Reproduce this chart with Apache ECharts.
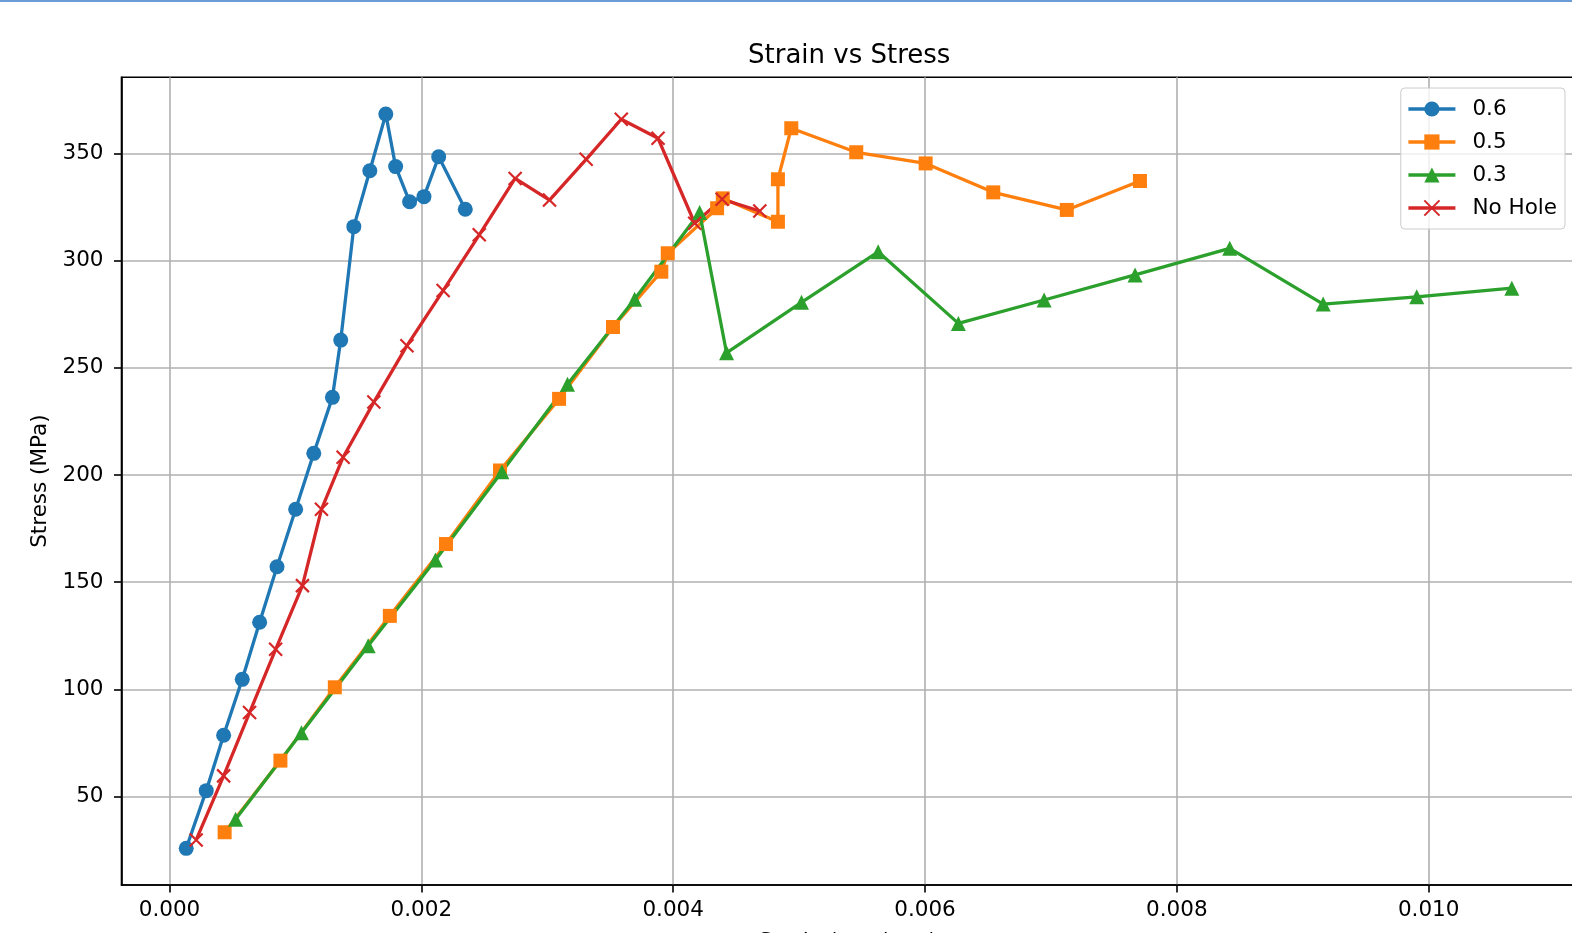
<!DOCTYPE html>
<html>
<head>
<meta charset="utf-8">
<script src="https://cdn.jsdelivr.net/npm/echarts@6/dist/echarts.min.js"></script>
<style>
  html, body { margin: 0; padding: 0; background: #fff; }
  #chart { width: 1572px; height: 933px; }
</style>
</head>
<body>
<div id="chart"></div>
<script>
// Series data: [strain, stress (MPa)]
const hole06 = [[0.000133,25.9],[0.000292,52.8],[0.000430,78.6],[0.000578,104.7],[0.000716,131.3],[0.000854,157.2],[0.001002,184.0],[0.001146,210.1],[0.001294,236.2],[0.001360,262.9],[0.001464,315.8],[0.001591,341.9],[0.001718,368.3],[0.001796,343.8],[0.001907,327.4],[0.002021,329.8],[0.002138,348.4],[0.002349,323.9]];
const hole05 = [[0.000438,33.4],[0.000881,66.8],[0.001313,101.0],[0.001750,134.3],[0.002196,167.8],[0.002625,202.1],[0.003094,235.5],[0.003522,269.0],[0.003906,294.8],[0.003957,303.4],[0.004349,324.4],[0.004394,329.0],[0.004832,318.1],[0.004832,337.9],[0.004938,361.7],[0.005454,350.5],[0.006005,345.3],[0.006542,331.8],[0.007126,323.6],[0.007707,337.1]];
const hole03 = [[0.000525,39.5],[0.001048,79.8],[0.001578,120.4],[0.002112,160.4],[0.002640,201.5],[0.003161,242.3],[0.003694,282.0],[0.004210,322.4],[0.004424,257.0],[0.005019,280.5],[0.005628,304.1],[0.006265,270.7],[0.006946,281.6],[0.007668,293.3],[0.008420,305.7],[0.009162,279.7],[0.009905,283.1],[0.010660,287.1]];
const noHole = [[0.000212,29.8],[0.000430,59.7],[0.000636,89.2],[0.000843,118.7],[0.001056,148.4],[0.001207,184.0],[0.001379,208.3],[0.001623,234.0],[0.001886,260.3],[0.002173,286.0],[0.002460,312.0],[0.002745,338.3],[0.003018,328.2],[0.003309,347.2],[0.003588,365.9],[0.003880,357.0],[0.004171,317.4],[0.004389,328.6],[0.004688,323.1]];

const seriesNames = ['0.6', '0.5', '0.3', 'No Hole'];
const xTicks = [0, 0.002, 0.004, 0.006, 0.008, 0.010];
const yTicks = [50, 100, 150, 200, 250, 300, 350];

const FONT = 'DejaVu Sans';
const FS = 21.5;
const colors = ['#1f77b4', '#ff7f0e', '#2ca02c', '#d62728'];
const crossPath = 'path://M0,0L10,10M10,0L0,10';

const chart = echarts.init(document.getElementById('chart'), null, { renderer: 'canvas' });

function lineSeries(name, data, color, symbol, size, extraItem) {
  return {
    name: name,
    type: 'line',
    data: data,
    symbol: symbol,
    symbolSize: size,
    showAllSymbol: true,
    animation: false,
    lineStyle: { color: color, width: 3.3 },
    itemStyle: Object.assign({ color: color, opacity: 1 }, extraItem || {}),
    emphasis: { disabled: true }
  };
}

const option = {
  animation: false,
  backgroundColor: '#ffffff',
  color: colors,
  graphic: [{
    type: 'rect',
    shape: { x: 0, y: 0, width: 1572, height: 2 },
    style: { fill: '#6a9bd6' },
    z: 100
  }],
  title: {
    text: 'Strain vs Stress',
    left: 743,
    top: 38,
    textStyle: { fontFamily: FONT, fontSize: 26, fontWeight: 'normal', color: '#000' }
  },
  legend: {
    data: seriesNames,
    orient: 'vertical',
    right: 7,
    top: 88,
    itemWidth: 47,
    itemHeight: 19,
    itemGap: 11,
    padding: [10, 8, 10, 6],
    backgroundColor: 'rgba(255,255,255,0.8)',
    borderColor: '#cccccc',
    borderWidth: 1,
    borderRadius: 4,
    lineStyle: { width: 3.3 },
    textStyle: { fontFamily: FONT, fontSize: FS, color: '#000', lineHeight: 22, padding: [0, 0, 0, 12] }
  },
  grid: {
    left: 121.5,
    right: -2,
    top: 77.2,
    bottom: 48,
    show: true,
    borderColor: '#000',
    borderWidth: 1.6,
    backgroundColor: 'transparent',
    containLabel: false,
    outerBoundsMode: 'none'
  },
  xAxis: {
    type: 'value',
    min: -0.000381,
    max: 0.011154,
    name: 'Strain (mm/mm)',
    nameLocation: 'middle',
    nameGap: 46.5,
    nameTextStyle: { fontFamily: FONT, fontSize: FS, color: '#000' },
    axisLine: { show: true, onZero: false, lineStyle: { color: '#000', width: 1.6 } },
    axisTick: { show: true, length: 7.5, inside: false, customValues: xTicks, lineStyle: { color: '#000', width: 1.6 } },
    axisLabel: {
      customValues: xTicks,
      margin: 14,
      fontFamily: FONT, fontSize: FS, color: '#000',
      formatter: v => Number(v).toFixed(3)
    },
    splitLine: { show: true, lineStyle: { color: '#b0b0b0', width: 1.6 } }
  },
  yAxis: {
    type: 'value',
    min: 8.8,
    max: 385.5,
    name: 'Stress (MPa)',
    nameLocation: 'middle',
    nameGap: 63,
    nameTextStyle: { fontFamily: FONT, fontSize: FS, color: '#000' },
    axisLine: { show: true, onZero: false, lineStyle: { color: '#000', width: 1.6 } },
    axisTick: { show: true, length: 7.5, inside: false, customValues: yTicks, lineStyle: { color: '#000', width: 1.6 } },
    axisLabel: {
      customValues: yTicks,
      margin: 18,
      fontFamily: FONT, fontSize: FS, color: '#000',
      formatter: v => String(Math.round(v))
    },
    splitLine: { show: true, lineStyle: { color: '#b0b0b0', width: 1.6 } }
  },
  series: [
    lineSeries(seriesNames[0], hole06, colors[0], 'circle', 15),
    lineSeries(seriesNames[1], hole05, colors[1], 'rect', 14),
    lineSeries(seriesNames[2], hole03, colors[2], 'triangle', 15),
    lineSeries(seriesNames[3], noHole, colors[3], crossPath, 13, { borderColor: colors[3], borderWidth: 2.2 })
  ]
};

chart.setOption(option);
</script>
</body>
</html>
